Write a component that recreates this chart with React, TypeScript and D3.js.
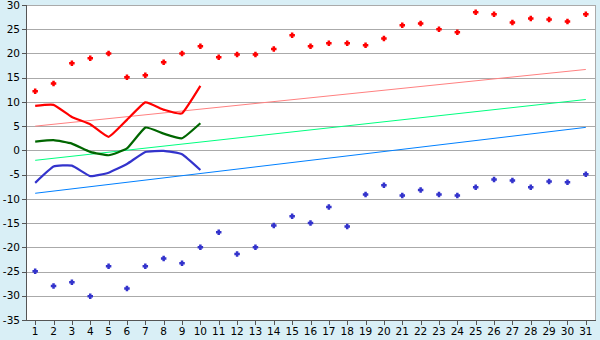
import React from "react";
import * as d3 from "d3";

const days = d3.range(1, 32).map(String);
const yTicks = [30, 25, 20, 15, 10, 5, 0, -5, -10, -15, -20, -25, -30, -35];

const maxPoints = [12.2, 13.8, 18.0, 19.0, 20.0, 15.1, 15.5, 18.2, 20.0, 21.5, 19.2, 19.8, 19.8, 20.9, 23.75, 21.5, 22.1, 22.1, 21.7, 23.1, 25.8, 26.2, 25.0, 24.4, 28.5, 28.1, 26.4, 27.2, 27.0, 26.6, 28.1];
const minPoints = [-24.95, -28.0, -27.2, -30.1, -23.9, -28.5, -23.9, -22.3, -23.3, -20.0, -16.9, -21.4, -20.0, -15.5, -13.6, -15.0, -11.7, -15.7, -9.1, -7.2, -9.3, -8.2, -9.1, -9.3, -7.6, -6.0, -6.2, -7.6, -6.4, -6.6, -4.9];

const redLine = [9.2, 9.4, 6.9, 5.4, 2.8, 6.3, 9.9, 8.4, 7.65, 13.3];
const greenLine = [1.8, 2.1, 1.4, -0.3, -1.0, 0.4, 4.7, 3.45, 2.5, 5.6];
const blueLine = [-6.7, -3.35, -3.15, -5.3, -4.6, -2.8, -0.33, -0.12, -0.8, -4.05];

const trendStart = [5.0, -2.05, -8.85];
const trendEnd = [16.7, 10.5, 4.75];
const trendColors = ["#ff8080", "#00ff80", "#0080ff"];

const W = 600, H = 340;
const L = 26, R = 595, T = 5, B = 320;

export default function App() {
  const x = d3.scaleBand<string>().domain(days).range([L, R]).padding(0);
  const cx = (i: number) => (x(days[i]) as number) + x.bandwidth() / 2;
  const y = d3.scaleLinear().domain([-35, 30]).range([B, T]);

  const line = d3
    .line<number>()
    .x((_, i) => cx(i))
    .y((d) => y(d))
    .curve(d3.curveCardinal.tension(0.6));

  const s = 2.75, a = 1.25;
  const cross = `M${-a},${-s}H${a}V${-a}H${s}V${a}H${a}V${s}H${-a}V${a}H${-s}V${-a}H${-a}Z`;
  const font = "'DejaVu Sans', Verdana, sans-serif";

  return (
    <div style={{ position: "fixed", left: 0, top: 0 }}>
      <svg width={W} height={H} style={{ display: "block" }}>
        <rect x={0} y={0} width={W} height={H} fill="#d9eff6" />
        <rect x={L} y={T} width={R - L} height={B - T} fill="#ffffff" />
        {yTicks.map((t) => (
          <line key={"g" + t} x1={L} x2={R} y1={Math.round(y(t)) + 0.5} y2={Math.round(y(t)) + 0.5} stroke="#aaaaaa" strokeWidth={1} />
        ))}
        <line x1={R + 0.5} x2={R + 0.5} y1={T} y2={B} stroke="#aaaaaa" />
        {trendStart.map((st, k) => (
          <line key={"t" + k} x1={cx(0)} x2={cx(30)} y1={y(st)} y2={y(trendEnd[k])} stroke={trendColors[k]} strokeWidth={1} />
        ))}
        <path d={line(redLine) as string} fill="none" stroke="#ff0000" strokeWidth={2.2} strokeLinejoin="round" />
        <path d={line(greenLine) as string} fill="none" stroke="#006600" strokeWidth={2.2} strokeLinejoin="round" />
        <path d={line(blueLine) as string} fill="none" stroke="#3333cc" strokeWidth={2.2} strokeLinejoin="round" />
        {maxPoints.map((v, i) => (
          <path key={"mx" + i} d={cross} transform={`translate(${cx(i)},${y(v)})`} fill="#ff0000" />
        ))}
        {minPoints.map((v, i) => (
          <path key={"mn" + i} d={cross} transform={`translate(${cx(i)},${y(v)})`} fill="#3333cc" />
        ))}
        <line x1={L + 0.5} x2={L + 0.5} y1={T} y2={B + 0.5} stroke="#555555" />
        <line x1={L} x2={R + 1} y1={B + 0.5} y2={B + 0.5} stroke="#555555" />
        {yTicks.map((t) => (
          <g key={"yt" + t}>
            <line x1={L - 4} x2={L} y1={Math.round(y(t)) + 0.5} y2={Math.round(y(t)) + 0.5} stroke="#555555" />
            <text x={L - 6} y={y(t)} dy="0.35em" textAnchor="end" fontFamily={font} fontSize={10.5} fill="#000">
              {t}
            </text>
          </g>
        ))}
        {days.map((d, i) => (
          <g key={"xt" + d}>
            <line x1={Math.round(cx(i)) + 0.5} x2={Math.round(cx(i)) + 0.5} y1={B} y2={B + 5} stroke="#555555" />
            <text x={cx(i)} y={B + 15} textAnchor="middle" fontFamily={font} fontSize={10.5} fill="#000">
              {d}
            </text>
          </g>
        ))}
      </svg>
    </div>
  );
}
